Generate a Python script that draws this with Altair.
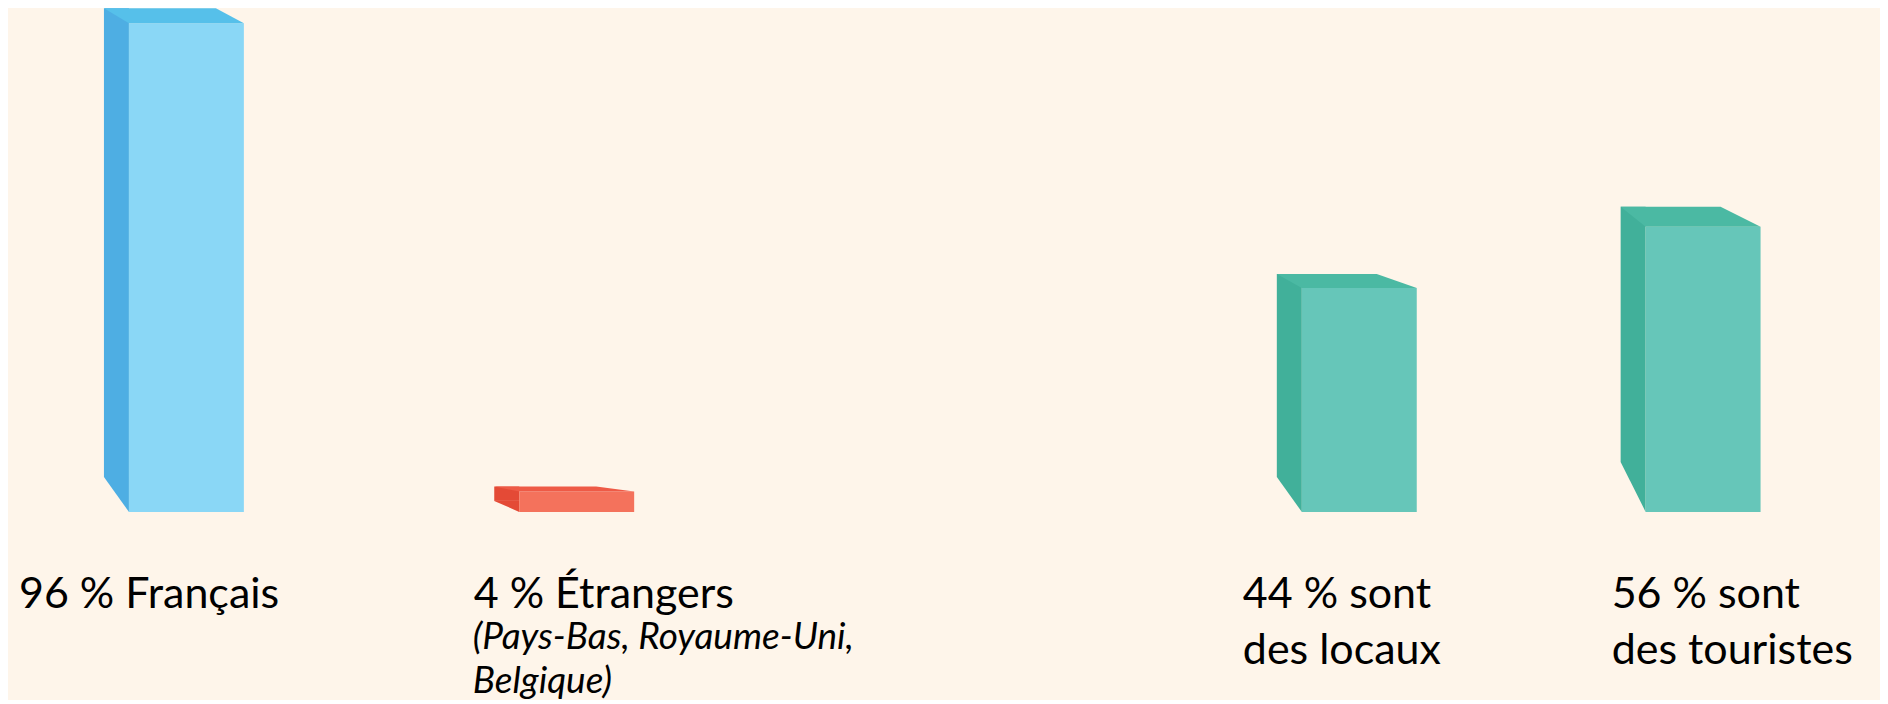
import altair as alt

# ---- data ----
categories = ["Français", "Étrangers", "Locaux", "Touristes"]
values = [96, 4, 44, 56]
labels = ["96 % Français", "4 % Étrangers", "44 % sont\ndes locaux", "56 % sont\ndes touristes"]
notes = ["", "(Pays-Bas, Royaume-Uni,\nBelgique)", "", ""]

# ---- styles ----
front_colors = ["#8AD7F6", "#F4725C", "#66C6B9", "#66C6B9"]
side_colors = ["#4EAEE3", "#E44A36", "#41B09A", "#41B09A"]
top_colors = ["#56C0EA", "#EE5A46", "#4BB9A3", "#4BB9A3"]
BG = "#FEF5EA"
FONT = "Lato"
BAR_W = 115
HALF = BAR_W / 2
DEPTH = 25
# per-bar 3D bevel and label offsets (pixels)
bevel_top = [15, 5, 14, 20]
bevel_bot = [35, 11, 35, 50]
top_inset = [28, 38, 40, 40]
label_dx = [-167.5, -103, -116.5, -91.5]
note_dx = -104

records = [
    {"category": c, "value": v, "label": l, "note": n}
    for c, v, l, n in zip(categories, values, labels, notes)
]
data = alt.Data(values=records)

H = 688
yscale = alt.Scale(domain=[0, 96], range=[504, 15], nice=False, zero=True)


def path(points):
    return "M" + "L".join(f"{x:g},{y:g}" for x, y in points) + "Z"


def bar_layers(i, xscale):
    cat = categories[i]
    base = alt.Chart(data).transform_filter(alt.datum.category == cat)
    x = alt.X("category:N", scale=xscale, axis=None)
    y = alt.Y("value:Q", scale=yscale, axis=None)
    y0 = alt.YDatum(0, scale=yscale, axis=None)

    side = base.mark_bar(
        color=side_colors[i], width=DEPTH, xOffset=-(HALF + DEPTH / 2),
        yOffset=-bevel_top[i], y2Offset=-bevel_bot[i],
    ).encode(x=x, y=y, y2=alt.datum(0))

    bevel = base.mark_point(
        shape=path([(-HALF - DEPTH, -bevel_bot[i]), (-HALF, -bevel_bot[i]), (-HALF, 0)]),
        size=4, filled=True, opacity=1, strokeWidth=0, color=side_colors[i],
    ).encode(x=x, y=y0)

    front = base.mark_bar(color=front_colors[i], width=BAR_W).encode(
        x=x, y=y, y2=alt.datum(0)
    )

    top = base.mark_point(
        shape=path([(-HALF - DEPTH, -bevel_top[i]), (HALF - top_inset[i], -bevel_top[i]),
                    (HALF, 0), (-HALF, 0)]),
        size=4, filled=True, opacity=1, strokeWidth=0, color=top_colors[i],
    ).encode(x=x, y=y)

    text = base.mark_text(
        align="left", baseline="alphabetic", dx=label_dx[i], dy=96,
        font=FONT, fontSize=43, lineHeight=56, lineBreak="\n", color="#000000",
    ).encode(x=x, y=y0, text="label:N")

    layers = [side, bevel, front, top, text]
    if notes[i]:
        note = base.mark_text(
            align="left", baseline="alphabetic", dx=note_dx, dy=137,
            font=FONT, fontSize=37, fontStyle="italic", lineHeight=44,
            lineBreak="\n", color="#000000",
        ).encode(x=x, y=y0, text="note:N")
        layers.append(note)
    return layers


xscale_a = alt.Scale(domain=categories[:2], paddingInner=0.70551, paddingOuter=0.30986,
                     align=0.5, round=False)
xscale_b = alt.Scale(domain=categories[2:], paddingInner=0.66570, paddingOuter=0.9673,
                     align=0.8212, round=False)

panel_a = alt.layer(*(bar_layers(0, xscale_a) + bar_layers(1, xscale_a))).properties(
    width=747.5, height=H
)
panel_b = alt.layer(*(bar_layers(2, xscale_b) + bar_layers(3, xscale_b))).properties(
    width=1124.5, height=H
)

chart = (
    alt.hconcat(panel_a, panel_b, spacing=0, bounds="flush")
    .properties(padding=0, background=BG)
    .configure_view(stroke=None)
)

chart.save("out.html", embed_options={"renderer": "svg", "actions": False})
